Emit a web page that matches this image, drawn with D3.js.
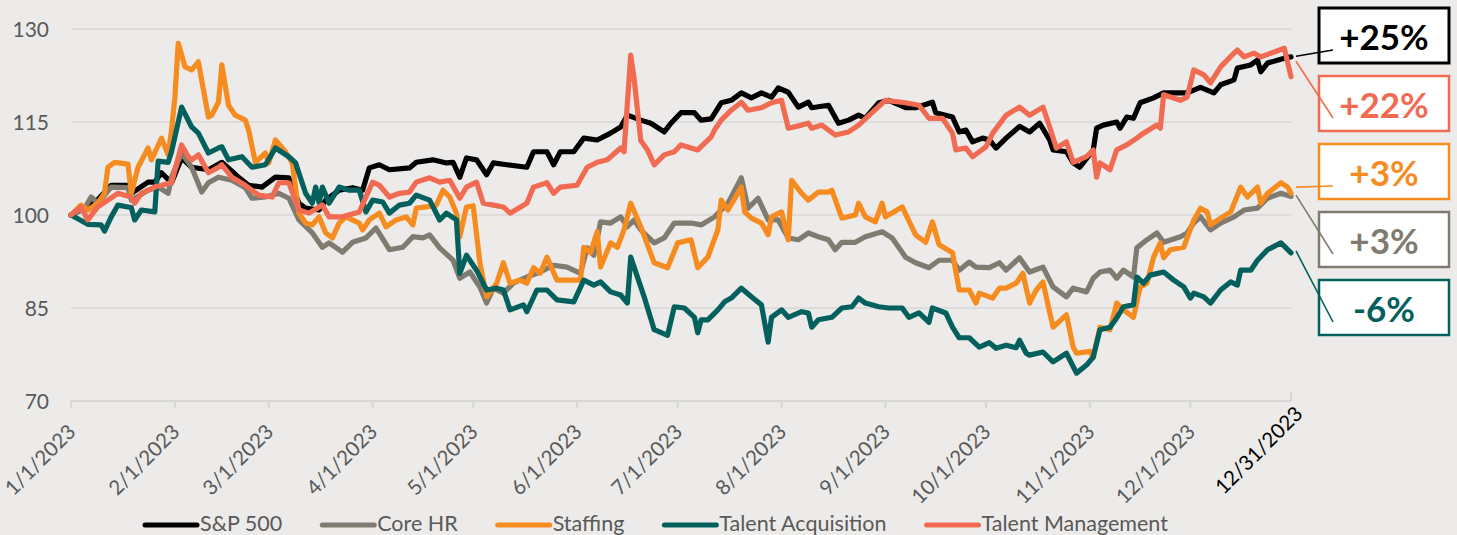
<!DOCTYPE html>
<html>
<head>
<meta charset="utf-8">
<script src="https://cdn.jsdelivr.net/npm/d3@7.9.0/dist/d3.min.js"></script>
<style>
  html, body { margin: 0; padding: 0; background: #ecebe9; }
  svg { display: block; font-family: Lato, 'Open Sans', sans-serif; }
</style>
</head>
<body>
<svg id="chart" width="1457" height="535"></svg>
<script>
// [days since 1/1/2023, index value (1/1/2023 = 100)]
const sp500 = [[0,100],[3,100.8],[8,102.5],[12,104.8],[17,104.8],[18,103.5],[23,105.3],[25,105.3],[27,106.8],[30,105.2],[33,109.2],[36,107.7],[41,107.3],[45,108.5],[50,106.1],[53,104.8],[57,104.5],[61,106.1],[65,106],[68,101.9],[70,101.1],[74,100.8],[76,102.4],[80,104],[84,104.4],[87,104],[89,107.6],[92,108.1],[95,107.3],[101,107.6],[103,108.5],[108,108.9],[112,108.4],[114,108.5],[116,106.1],[118,109.2],[121,108.9],[124,106.5],[126,108.4],[130,108.1],[136,107.7],[138,110.2],[142,110.2],[144,108.1],[146,110.2],[150,110.2],[153,112.4],[157,112.1],[161,113.2],[164,114.2],[166,116.1],[170,115.3],[173,114.8],[177,113.4],[179,114.8],[182,116.5],[186,116.5],[188,115.3],[191,115.5],[194,118.1],[197,118.5],[200,119.7],[203,118.9],[206,119.7],[209,119],[211,120.5],[214,119.8],[217,117.4],[220,118.2],[221,117.3],[226,117.7],[229,114.8],[232,115.3],[235,116.1],[237,115.6],[241,118.1],[244,118.5],[249,117.3],[252,117.3],[257,118.2],[258,116.5],[263,115.8],[265,113.4],[267,113.7],[269,111.8],[272,112.4],[274,112.1],[276,110.8],[279,112.4],[283,114.3],[286,113.4],[289,114.8],[292,112.1],[293,110.5],[297,110.2],[299,108.4],[301,107.7],[305,110.5],[306,114],[308,114.5],[312,115],[313,114],[315,115.8],[317,115.6],[319,118.1],[323,118.9],[326,119.7],[330,119.7],[333,119.7],[337,120.6],[341,119.7],[343,121],[347,121.8],[348,123.7],[352,124.2],[354,125],[355,123.1],[357,124.5],[362,125.3],[364,125.5]];

const coreHR = [[0,100],[4,101],[6,102.9],[8,101.9],[12,104.5],[17,104.4],[18,102.4],[23,104],[26,104.5],[29,103.5],[30,106.1],[33,110],[36,107.7],[39,103.7],[41,105.2],[44,106.1],[48,105.6],[52,104.4],[54,102.7],[58,102.9],[62,103.5],[65,102.7],[68,99.2],[72,97.1],[75,94.8],[77,95.5],[81,94],[84,95.6],[88,96.3],[91,97.9],[95,94.4],[99,94.8],[102,96.5],[105,96.3],[107,96.8],[110,94.7],[114,92.7],[116,89.8],[119,90.8],[122,88.4],[124,85.8],[126,88.2],[129,87.4],[132,89],[136,90],[140,90.8],[144,91.9],[148,91.6],[152,90.6],[154,94.7],[156,93.5],[158,98.9],[161,98.7],[164,99.7],[166,98.1],[168,99.2],[170,97.6],[174,95.5],[177,96.3],[180,98.7],[185,98.7],[188,98.4],[192,99.7],[196,101.9],[197,102.9],[200,106],[202,101.1],[205,102.7],[208,99.2],[211,99.2],[214,96.3],[217,96],[220,97.1],[223,96.5],[226,96],[228,94.4],[230,95.6],[234,95.6],[237,96.5],[242,97.3],[245,96.3],[249,93.2],[252,92.3],[256,91.5],[259,92.7],[263,92.7],[265,91.1],[268,92.4],[270,91.6],[274,91.5],[277,92.3],[279,91.1],[283,93.1],[286,90.8],[290,91.6],[293,88.4],[297,86.8],[299,88.2],[303,87.6],[305,89.8],[307,90.8],[310,91.1],[312,89.8],[314,91.1],[317,90],[318,94.7],[321,96],[324,97.1],[326,95.6],[331,96.5],[333,97.1],[335,98.7],[337,99.7],[340,97.6],[343,98.7],[347,99.7],[350,100.8],[354,101.1],[357,102.7],[361,103.5],[364,103]];

const staffing = [[0,100],[3,101.6],[5,100.8],[8,101.9],[10,103.5],[11,107.7],[13,108.5],[17,108.2],[18,103.5],[20,107.7],[23,110.8],[24,108.9],[27,112.4],[29,109.7],[30,113.7],[31,119],[32,127.7],[34,123.9],[36,123.4],[38,124.7],[41,115.8],[42,116.1],[44,118.2],[45,124.2],[47,117.7],[49,116.1],[52,115.3],[53,113.7],[55,108.5],[58,110],[59,108.4],[61,112.1],[64,110.2],[66,108.4],[68,100.3],[70,98.7],[72,98.4],[74,99.7],[76,97.1],[78,96.3],[80,98.7],[82,99.7],[86,98.7],[87,97.6],[89,99.2],[92,100.3],[94,98.1],[97,99.2],[100,99.7],[102,98.4],[103,101.1],[106,101.3],[109,101.6],[111,104],[113,102.9],[115,100.3],[116,96.5],[118,101.3],[120,101.5],[122,92.3],[124,86.8],[127,89],[129,92.3],[131,89],[134,89.5],[136,89],[138,91.5],[140,90.6],[142,93.2],[145,89.5],[150,89.5],[152,89.5],[153,94.8],[155,93.9],[157,97.3],[158,91.6],[161,95.5],[163,94.8],[165,97.6],[167,101.9],[170,98.1],[174,92.3],[178,91.5],[181,95.5],[185,96],[187,91.5],[190,93.2],[193,97.6],[194,102.4],[196,100.8],[200,104.5],[201,100.5],[203,99.5],[206,98.7],[208,96.8],[209,99.7],[212,100.5],[214,96],[215,105.6],[218,103.5],[220,102.4],[223,103.7],[226,103.7],[227,104],[230,99.5],[234,100],[235,101.9],[237,99.7],[240,98.9],[242,101.9],[243,99.7],[248,101.3],[252,96.8],[255,95.6],[257,98.9],[259,95.2],[263,93.9],[265,87.9],[268,87.9],[270,85.8],[271,87.4],[275,86.6],[277,88.2],[279,88.2],[282,89],[284,90.6],[286,85.8],[288,87.9],[290,89.2],[293,81.9],[297,83.9],[299,78.7],[300,77.7],[304,78],[305,77],[307,81.9],[310,81.5],[312,85.8],[314,84.7],[317,83.5],[319,88.4],[321,89],[323,93.2],[325,95.5],[326,93.1],[328,94.4],[332,94.8],[335,99.2],[337,101.1],[339,100.5],[340,98.4],[343,99.5],[346,100.5],[349,104.5],[351,102.9],[354,104.5],[355,101.9],[357,103.5],[361,105.2],[363,104.5],[364,103.5]];

const talentAcq = [[0,100],[5,98.5],[9,98.4],[10,97.4],[12,99.7],[14,101.6],[17,101.3],[18,101.2],[19,99.2],[21,100.8],[25,100.5],[26,108.7],[29,108.5],[30,110.2],[33,117.4],[36,114.2],[38,113.2],[41,110],[44,110.8],[45,111],[47,108.9],[51,109.4],[54,107.7],[58,108.1],[61,110.8],[65,109.4],[67,108.4],[70,103.5],[72,101.9],[73,104.5],[74,102],[75,104.5],[77,101.9],[80,104.5],[83,104],[86,104],[88,100.5],[90,102.4],[93,102.1],[95,100.3],[98,101.6],[101,101.9],[103,103.2],[107,102.4],[110,99.2],[112,100.3],[115,99.2],[116,90.6],[118,93.5],[121,91.1],[124,87.9],[127,88.2],[129,87.9],[131,84.7],[135,85.5],[136,84.4],[139,87.9],[142,87.9],[145,86.3],[150,86],[153,89.5],[156,88.7],[158,89.2],[161,87.6],[164,87.1],[166,85.8],[167,93.2],[171,86.8],[174,81.5],[178,80.6],[180,85.2],[183,85],[186,83.5],[187,81],[188,83.1],[190,83.1],[193,84.7],[195,86],[197,86.6],[200,88.2],[203,86.8],[206,85.5],[208,79.5],[209,83.5],[212,84.7],[214,83.5],[218,84.4],[220,84.2],[221,81.9],[223,83.1],[227,83.5],[230,85],[233,85.2],[235,86.6],[237,85.8],[241,85.2],[244,85],[248,85],[250,83.5],[253,84.2],[256,82.7],[257,85],[261,84.2],[263,81.9],[265,80.2],[268,80.2],[271,78.7],[274,79.4],[276,78.5],[279,79],[282,78.6],[283,79.8],[285,77.7],[286,77.4],[290,77.9],[293,76.3],[297,77.7],[300,74.5],[303,75.8],[305,77.1],[307,81.5],[310,81.9],[312,83.4],[314,85.2],[317,85.5],[318,90],[320,89],[322,90.3],[326,90.8],[329,89.5],[332,88.4],[334,86.6],[335,87.4],[338,86.8],[340,85.8],[343,87.9],[346,89.2],[348,88.7],[349,91.1],[352,91.1],[354,92.7],[357,94.4],[361,95.5],[364,93.9]];

const talentMgmt = [[0,100],[3,101.3],[5,99.2],[8,101.3],[11,102.4],[14,103.5],[18,102.9],[19,101.9],[21,103.5],[25,104.5],[27,104.8],[30,105.2],[33,111.3],[35,109.4],[36,108.9],[38,109.7],[41,106.8],[44,107.7],[45,108.1],[48,106.1],[52,104.8],[56,103.2],[60,102.9],[62,105.2],[65,105.2],[68,100.8],[71,100.3],[75,101.6],[77,99.7],[81,99.7],[86,100.5],[90,105.3],[92,104.8],[95,102.9],[98,103.5],[101,103.7],[103,105.3],[107,106],[110,105.3],[113,105.6],[116,102.7],[118,104.5],[121,105.3],[123,101.9],[126,101.6],[129,101.3],[131,100.3],[136,101.9],[138,104.5],[142,105.2],[144,103.5],[146,104.5],[151,104.8],[154,107.7],[157,108.5],[160,108.9],[164,110.8],[165,110.2],[167,125.8],[168,122],[170,112],[172,110.5],[174,108.1],[177,109.7],[180,110.2],[182,111.3],[187,110.5],[191,112.6],[192,113.7],[194,115.3],[197,116.9],[200,118.2],[202,116.9],[206,117.3],[209,118.1],[212,118.5],[214,114],[218,114.5],[220,114.8],[221,114],[224,114.5],[228,112.9],[232,113.4],[235,114.5],[239,116.5],[243,118.5],[249,118.1],[253,117.7],[256,115.6],[260,115.6],[263,113.2],[264,110.5],[267,110.8],[269,109.4],[271,110.2],[273,111],[275,113.2],[279,116.1],[283,117.4],[286,116.1],[290,117.4],[292,114.2],[294,110.8],[297,111.8],[299,108.5],[303,109.4],[305,110.5],[306,106.1],[307,108.4],[310,107.3],[312,110.5],[315,111.3],[318,112.4],[320,113.2],[324,114.5],[325,114],[326,119.4],[331,118.5],[333,119],[335,123.4],[338,122.6],[340,121.3],[343,123.9],[347,126.1],[348,126.6],[350,125.5],[353,126.1],[355,125.5],[359,126.3],[362,126.9],[364,122.3]];

const seriesNames = ['S&P 500', 'Core HR', 'Staffing', 'Talent Acquisition', 'Talent Management'];
const seriesData = [sp500, coreHR, staffing, talentAcq, talentMgmt];
const seriesColors = ['#000000', '#7f7b70', '#f68b1f', '#03605d', '#f16b52'];

// end-of-year callouts, top to bottom
const calloutSeries = [0, 4, 2, 1, 3];
const calloutText = ['+25%', '+22%', '+3%', '+3%', '-6%'];
const calloutFrom = [125.6, 124.8, 104.5, 103.2, 94.2];

const yTicks = [70, 85, 100, 115, 130];
const monthTicks = ['2023-01-01','2023-02-01','2023-03-01','2023-04-01','2023-05-01','2023-06-01',
  '2023-07-01','2023-08-01','2023-09-01','2023-10-01','2023-11-01','2023-12-01'];
const endTick = '2023-12-31';

const parse = d3.timeParse('%Y-%m-%d');
const start = parse('2023-01-01');
const end = parse(endTick);

const svg = d3.select('#chart');

const x = d3.scaleTime().domain([start, end]).range([71, 1291]);
const y = d3.scaleLinear().domain([70, 130]).range([401, 29]);

// GRID
svg.append('g')
  .selectAll('line')
  .data(yTicks.slice(1))
  .join('line')
  .attr('x1', x.range()[0])
  .attr('x2', x.range()[1])
  .attr('y1', d => y(d))
  .attr('y2', d => y(d))
  .attr('stroke', '#d8d7d5')
  .attr('stroke-width', 1.5);

// Y AXIS LABELS
svg.append('g')
  .selectAll('text')
  .data(yTicks)
  .join('text')
  .attr('x', 49)
  .attr('y', d => y(d))
  .attr('dy', '0.36em')
  .attr('text-anchor', 'end')
  .attr('fill', '#595959')
  .style('font-size', '21px')
  .text(d => d);

// X AXIS
const fmt = d3.timeFormat('%-m/%-d/%Y');
const xAxis = svg.append('g').attr('transform', `translate(0,${y(70)})`);

xAxis.append('line')
  .attr('x1', x.range()[0])
  .attr('x2', x.range()[1])
  .attr('stroke', '#d8d7d5')
  .attr('stroke-width', 2);

xAxis.selectAll('.tick')
  .data(monthTicks.map(parse))
  .join('line')
  .attr('class', 'tick')
  .attr('x1', d => x(d))
  .attr('x2', d => x(d))
  .attr('y1', 0)
  .attr('y2', 7)
  .attr('stroke', '#d8d7d5')
  .attr('stroke-width', 2);

xAxis.append('line')
  .attr('x1', x(end))
  .attr('x2', x(end))
  .attr('y1', -9)
  .attr('y2', 0)
  .attr('stroke', '#d8d7d5')
  .attr('stroke-width', 2);

xAxis.selectAll('.lbl')
  .data(monthTicks.map(parse))
  .join('text')
  .attr('class', 'lbl')
  .attr('transform', d => `translate(${x(d) + 6},32) rotate(-45)`)
  .attr('text-anchor', 'end')
  .attr('fill', '#595959')
  .style('font-size', '20.5px')
  .text(fmt);

xAxis.append('text')
  .attr('transform', `translate(${x(end) + 13},14) rotate(-45)`)
  .attr('text-anchor', 'end')
  .attr('fill', '#000')
  .style('font-size', '20.5px')
  .text(fmt(end));

// LINES
const line = d3.line()
  .x(d => x(d3.timeDay.offset(start, d[0])))
  .y(d => y(d[1]));

svg.append('g')
  .selectAll('path')
  .data(seriesData)
  .join('path')
  .attr('d', line)
  .attr('fill', 'none')
  .attr('stroke', (d, i) => seriesColors[i])
  .attr('stroke-width', 5.2)
  .attr('stroke-linejoin', 'round')
  .attr('stroke-linecap', 'round');

// CALLOUTS
const boxX = 1319, boxW = 130, boxH = 55, boxTop = 8, boxStep = 68;
const callouts = svg.append('g');

calloutSeries.forEach((si, k) => {
  const by = boxTop + k * boxStep;
  const c = seriesColors[si];
  callouts.append('rect')
    .attr('x', boxX)
    .attr('y', by)
    .attr('width', boxW)
    .attr('height', boxH)
    .attr('fill', '#fff')
    .attr('stroke', c)
    .attr('stroke-width', si === 0 ? 3 : 2.5);
  callouts.append('line')
    .attr('x1', x(end) + 5)
    .attr('y1', y(calloutFrom[k]))
    .attr('x2', boxX + 14)
    .attr('y2', by + 42)
    .attr('stroke', c)
    .attr('stroke-width', 1.6);
  callouts.append('text')
    .attr('x', boxX + boxW / 2)
    .attr('y', by + 42)
    .attr('text-anchor', 'middle')
    .attr('fill', c)
    .style('font-size', '35px')
    .style('font-weight', 700)
    .text(calloutText[k]);
});

// LEGEND
const legend = svg.append('g').attr('transform', 'translate(143,0)');
let lx = 0;
seriesNames.forEach((name, i) => {
  legend.append('line')
    .attr('x1', lx + 2)
    .attr('x2', lx + 54)
    .attr('y1', 525)
    .attr('y2', 525)
    .attr('stroke', seriesColors[i])
    .attr('stroke-width', 5)
    .attr('stroke-linecap', 'round');
  const t = legend.append('text')
    .attr('x', lx + 57)
    .attr('y', 531)
    .attr('fill', '#595959')
    .style('font-size', '21.5px')
    .text(name);
  lx += 57 + t.node().getComputedTextLength() + 38;
});
</script>
</body>
</html>
